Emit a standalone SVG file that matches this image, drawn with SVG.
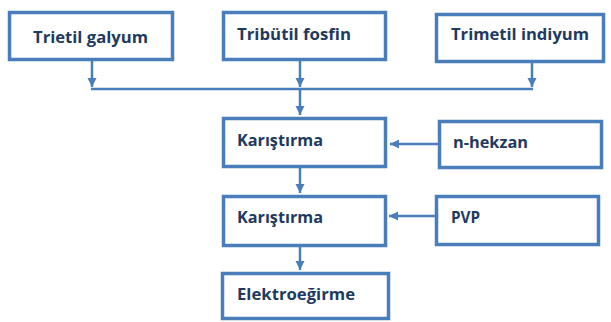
<svg xmlns="http://www.w3.org/2000/svg" width="611" height="322" viewBox="0 0 611 322">
<defs>
<style>
.box{fill:#ffffff;stroke:#4A7EBB;stroke-width:3.5}
.lbl{font-family:"Open Sans","Liberation Sans",sans-serif;font-weight:bold;font-size:16px;fill:#1F3A5F}
.con{fill:none;stroke:#4A7EBB;stroke-width:2.5}
</style>
<marker id="ah" markerUnits="userSpaceOnUse" markerWidth="10" markerHeight="10" refX="9" refY="5" orient="auto">
<path d="M0,0.5 L9,5 L0,9.5 z" fill="#4A7EBB"/>
</marker>
</defs>
<rect width="611" height="322" fill="#ffffff"/>
<g id="connectors">
<line class="con" x1="92" y1="61" x2="92" y2="87" marker-end="url(#ah)"/>
<line class="con" x1="300" y1="61" x2="300" y2="87" marker-end="url(#ah)"/>
<line class="con" x1="532" y1="63" x2="532" y2="87" marker-end="url(#ah)"/>
<line class="con" x1="91" y1="89" x2="533" y2="89"/>
<line class="con" x1="300" y1="89" x2="300" y2="115" marker-end="url(#ah)"/>
<line class="con" x1="438" y1="144" x2="390" y2="144" marker-end="url(#ah)"/>
<line class="con" x1="300" y1="168" x2="300" y2="193" marker-end="url(#ah)"/>
<line class="con" x1="435" y1="216" x2="389" y2="216" marker-end="url(#ah)"/>
<line class="con" x1="300" y1="247" x2="300" y2="270" marker-end="url(#ah)"/>
</g>
<g id="trietil-galyum">
<rect class="box" x="9.5" y="12.5" width="163" height="47"/>
<text class="lbl" x="33" y="43" textLength="115" lengthAdjust="spacingAndGlyphs">Trietil galyum</text>
</g>
<g id="tributil-fosfin">
<rect class="box" x="223.5" y="12.5" width="162" height="47"/>
<text class="lbl" x="237" y="40" textLength="114" lengthAdjust="spacingAndGlyphs">Tribütil fosfin</text>
</g>
<g id="trimetil-indiyum">
<rect class="box" x="436.5" y="14.5" width="167" height="47"/>
<text class="lbl" x="451" y="40" textLength="138" lengthAdjust="spacingAndGlyphs">Trimetil indiyum</text>
</g>
<g id="karistirma-1">
<rect class="box" x="223.5" y="118.5" width="162" height="48"/>
<text class="lbl" x="237" y="146" textLength="86" lengthAdjust="spacingAndGlyphs">Karıştırma</text>
</g>
<g id="n-hekzan">
<rect class="box" x="439.5" y="121.5" width="162" height="46"/>
<text class="lbl" x="453" y="148" textLength="75" lengthAdjust="spacingAndGlyphs">n-hekzan</text>
</g>
<g id="karistirma-2">
<rect class="box" x="223.5" y="196.5" width="162" height="49"/>
<text class="lbl" x="237" y="223" textLength="86" lengthAdjust="spacingAndGlyphs">Karıştırma</text>
</g>
<g id="pvp">
<rect class="box" x="436.5" y="196.5" width="162" height="48"/>
<text class="lbl" x="451" y="223" textLength="29" lengthAdjust="spacingAndGlyphs">PVP</text>
</g>
<g id="elektroegirme">
<rect class="box" x="222.5" y="273.5" width="166" height="45"/>
<text class="lbl" x="237" y="300" textLength="118" lengthAdjust="spacingAndGlyphs">Elektroeğirme</text>
</g>
</svg>
